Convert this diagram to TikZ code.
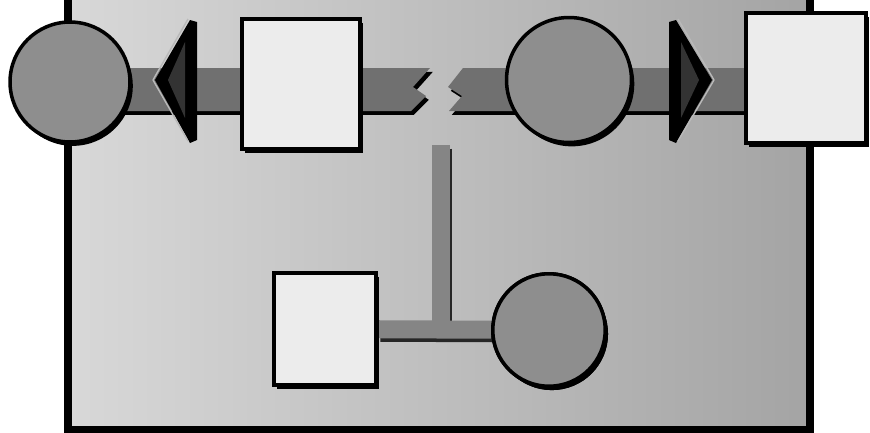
\documentclass[tikz,border=0pt]{standalone}
\usetikzlibrary{calc,shadows}
\definecolor{panelL}{HTML}{D8D8D8}
\definecolor{panelR}{HTML}{A4A4A4}
\definecolor{cirFill}{HTML}{8E8E8E}
\definecolor{boxFill}{HTML}{ECECEC}
\definecolor{bandFill}{HTML}{707070}

\begin{document}
\begin{tikzpicture}[x=0.02cm,y=-0.02cm,
    shad/.style={drop shadow={shadow xshift=1.6pt,shadow yshift=-2.2pt,fill=black,opacity=1}},
    circ/.style={circle,draw,line width=2pt,fill=cirFill,inner sep=0pt,shad},
    sqbox/.style={rectangle,draw,line width=2pt,fill=boxFill,inner sep=0pt,shad},
    band/.style={fill=bandFill,shad},
    thinband/.style={draw=bandFill!85!white,line width=0.36cm},
    thinshad/.style={draw=black!85,line width=0.36cm,transform canvas={xshift=1.4pt,yshift=-2pt}},
    tip/.style={fill=black},
    shine/.style={draw=gray!55,line width=0.8pt}]
  \useasboundingbox (0,0) rectangle (870,433);
  % ---- panel ----
  \draw[line width=4pt,left color=panelL,right color=panelR] (68,-20) rectangle (810,430);
  % ---- nodes ----
  \coordinate (brkL) at (425,89);
  \coordinate (brkR) at (455,89);
  \coordinate (vtop) at (441,145);
  \path (70,82) coordinate (cLpos) (806,78) coordinate (sqRpos);
  % ---- top bands, broken in the middle ----
  \fill[band] (cLpos |- 0,68) -- ($(brkL)+(5,-21)$) -- ($(brkL)+(-12,-2)$) -- ($(brkL)+(1,7)$)
       -- ($(brkL)+(-14,22)$) -- (cLpos |- 0,111) -- cycle;
  \fill[band] ($(brkR)+(8,-21)$) -- (sqRpos |- 0,68) -- (sqRpos |- 0,111) -- ($(brkR)+(-6,22)$)
       -- ($(brkR)+(7,7)$) -- ($(brkR)+(-7,-2)$) -- cycle;
  % ---- bottom band ----
  \node[sqbox,minimum width=2.05cm,minimum height=2.25cm] (sqB) at (325,329) {};
  \node[circ,minimum size=2.25cm] (cB) at (549,330) {};
  \draw[thinshad] (vtop) -- (vtop |- cB);
  \draw[thinshad] (sqB) -- (cB);
  \draw[thinband] (vtop) -- (vtop |- cB);
  \draw[thinband] (sqB) -- (cB);
  \node[sqbox,minimum width=2.05cm,minimum height=2.25cm] at (sqB) {};
  \node[circ,minimum size=2.25cm] at (cB) {};
  % ---- top row ----
  \node[circ,minimum size=2.4cm] (cL) at (cLpos) {};
  \node[sqbox,minimum width=2.36cm,minimum height=2.6cm] (sqL) at (301,84) {};
  \node[circ,minimum size=2.5cm] (cR) at (569,80) {};
  \node[sqbox,minimum width=2.4cm,minimum height=2.6cm] (sqR) at (sqRpos) {};
  % ---- arrowheads ----
  \fill[tip] (155,80) -- (190,20) -- (197,22) -- (197,140) -- (190,143) -- cycle;
  \fill[gray!40!black] (168,80) -- (185,42) -- (185,118) -- cycle;
  \draw[shine] (153,80) -- (188,19); \draw[shine] (153,80) -- (188,141);
  \fill[tip] (712,80) -- (676,20) -- (669,22) -- (669,140) -- (676,143) -- cycle;
  \fill[gray!40!black] (699,80) -- (681,42) -- (681,118) -- cycle;
  \draw[shine] (714,80) -- (678,19); \draw[shine] (714,80) -- (678,141);
\end{tikzpicture}
\end{document}
